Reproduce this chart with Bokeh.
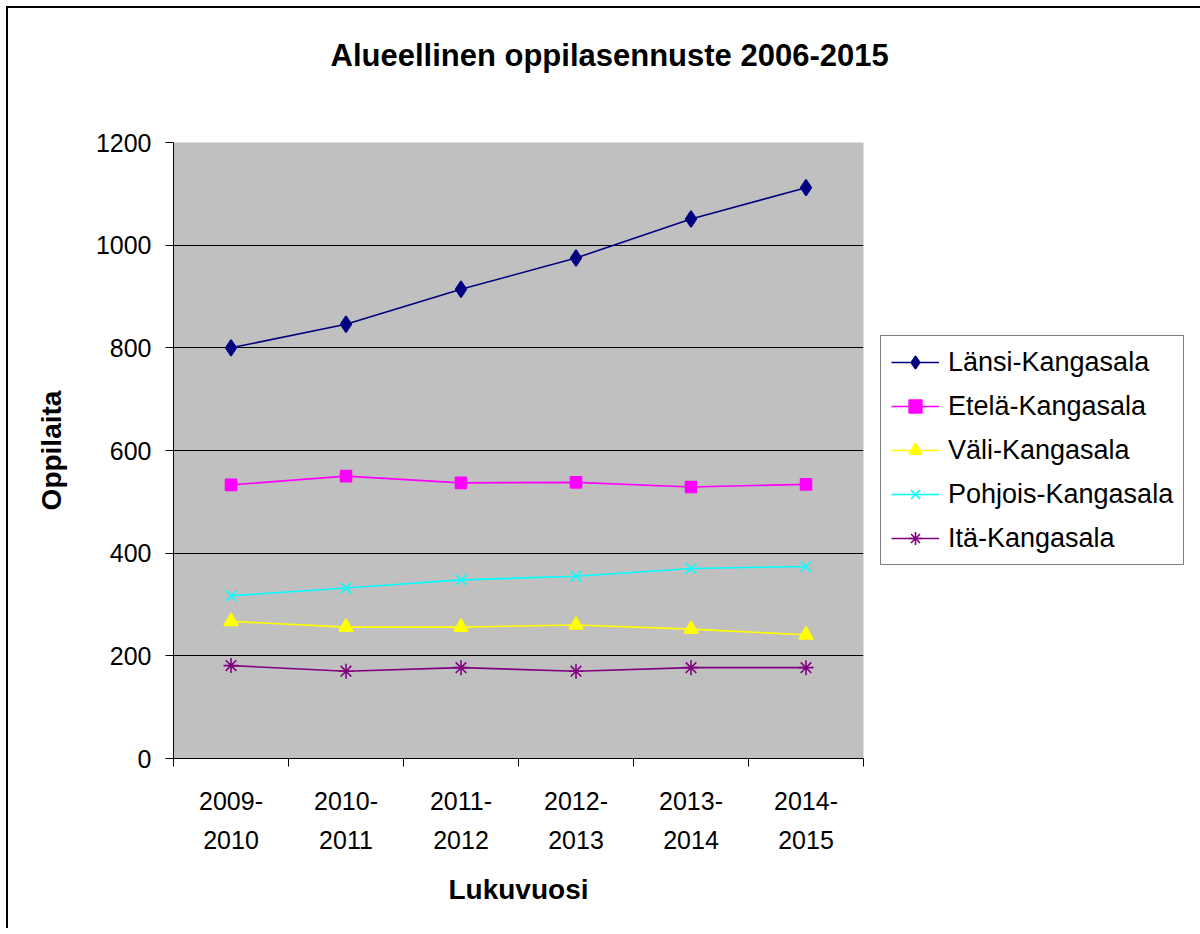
from bokeh.plotting import figure
from bokeh.models import Range1d, FixedTicker, Legend, LegendItem, Title
from bokeh.embed import file_html
from bokeh.resources import INLINE

# ---- data ----
categories = ["2009-2010", "2010-2011", "2011-2012", "2012-2013", "2013-2014", "2014-2015"]
lansi = [800, 846, 914, 975, 1051, 1112]
etela = [533, 550, 537, 538, 529, 534]
vali = [267, 256, 256, 260, 252, 241]
pohjois = [317, 332, 348, 355, 370, 374]
ita = [181, 170, 177, 170, 177, 177]
series_names = ["Länsi-Kangasala", "Etelä-Kangasala", "Väli-Kangasala", "Pohjois-Kangasala", "Itä-Kangasala"]
y_ticks = [0, 200, 400, 600, 800, 1000, 1200]
chart_title = "Alueellinen oppilasennuste 2006-2015"

FONT = "Liberation Sans"
W, H = 1200, 934
FL, FR, FT, FB = 173, 863, 142, 758   # frame edges on the page

p = figure(frame_width=FR - FL, frame_height=FB - FT,
           output_backend="svg", toolbar_location=None,
           x_range=Range1d(0, len(categories)), y_range=Range1d(0, 1200),
           min_border_left=FL, min_border_right=W - FR,
           min_border_top=FT, min_border_bottom=H - FB)
# main title (outermost item of the top panel)
p.title.text = chart_title
p.title.align = "left"
p.title.offset = 157
p.title.text_font = FONT
p.title.text_font_style = "bold"
p.title.text_font_size = "31px"
p.title.text_color = "black"
p.title.standoff = 10
# blank spacer between title and plot area
spacer = Title(text=" ", text_font_size="10px", standoff=52)
p.add_layout(spacer, "above")

p.background_fill_color = "#C0C0C0"
p.border_fill_color = None
p.outline_line_color = None
p.styles = {"box-shadow": "inset 0 0 0 6px white, inset 8px 8px 0 0 #000", "background": "white"}

xs = [i + 0.5 for i in range(len(categories))]

# x axis
xa = p.xaxis[0]
xa.ticker = FixedTicker(ticks=xs, minor_ticks=list(range(len(categories) + 1)))
xa.major_label_overrides = {x: c.replace("-", "-\n", 1) for x, c in zip(xs, categories)}
xa.major_tick_out = 0
xa.major_tick_in = 0
xa.minor_tick_out = 8
xa.minor_tick_in = 0
xa.minor_tick_line_color = "black"
xa.axis_line_color = "black"
xa.major_label_text_font = FONT
xa.major_label_text_font_size = "25px"
xa.major_label_text_color = "black"
xa.major_label_text_line_height = 1.4
xa.major_label_standoff = 20
xa.axis_label = "Lukuvuosi"
xa.axis_label_text_font = FONT
xa.axis_label_text_font_style = "bold"
xa.axis_label_text_font_size = "28px"
xa.axis_label_text_color = "black"
xa.axis_label_standoff = 17

# y axis
ya = p.yaxis[0]
ya.ticker = FixedTicker(ticks=y_ticks, minor_ticks=[])
ya.major_tick_out = 8
ya.major_tick_in = 0
ya.major_tick_line_color = "black"
ya.axis_line_color = "black"
ya.major_label_text_font = FONT
ya.major_label_text_font_size = "25px"
ya.major_label_text_color = "black"
ya.major_label_standoff = 14
ya.axis_label = "Oppilaita"
ya.axis_label_text_font = FONT
ya.axis_label_text_font_style = "bold"
ya.axis_label_text_font_size = "28px"
ya.axis_label_text_color = "black"
ya.axis_label_standoff = 26

p.xgrid.grid_line_color = None
p.ygrid.ticker = FixedTicker(ticks=y_ticks)
p.ygrid.grid_line_color = "black"
p.ygrid.grid_line_width = 1

styles = [
    (lansi, "#000080", "diamond", 16, "#000080"),
    (etela, "#FF00FF", "square", 11, "#FF00FF"),
    (vali, "#FFFF00", "triangle", 14, "#FFFF00"),
    (pohjois, "#00FFFF", "x", 15, None),
    (ita, "#800080", "asterisk", 15, None),
]

items = []
for name, (vals, color, marker, size, fill) in zip(series_names, styles):
    r1 = p.line(xs, vals, line_color=color, line_width=1.6)
    r2 = p.scatter(xs, vals, marker=marker, size=size, line_color=color,
                   fill_color=fill, line_width=1.6)
    items.append(LegendItem(label=name, renderers=[r1, r2]))

legend = Legend(items=items, location="left")
legend.label_text_font = FONT
legend.label_text_font_size = "27px"
legend.label_text_color = "black"
legend.border_line_color = "black"
legend.border_line_width = 1
legend.background_fill_color = "white"
legend.background_fill_alpha = 1
legend.padding = 10
legend.margin = 17
legend.spacing = 12
legend.glyph_width = 48
legend.glyph_height = 32
legend.label_standoff = 9
p.add_layout(legend, "right")

open("out.html", "w").write(file_html(p, INLINE))
